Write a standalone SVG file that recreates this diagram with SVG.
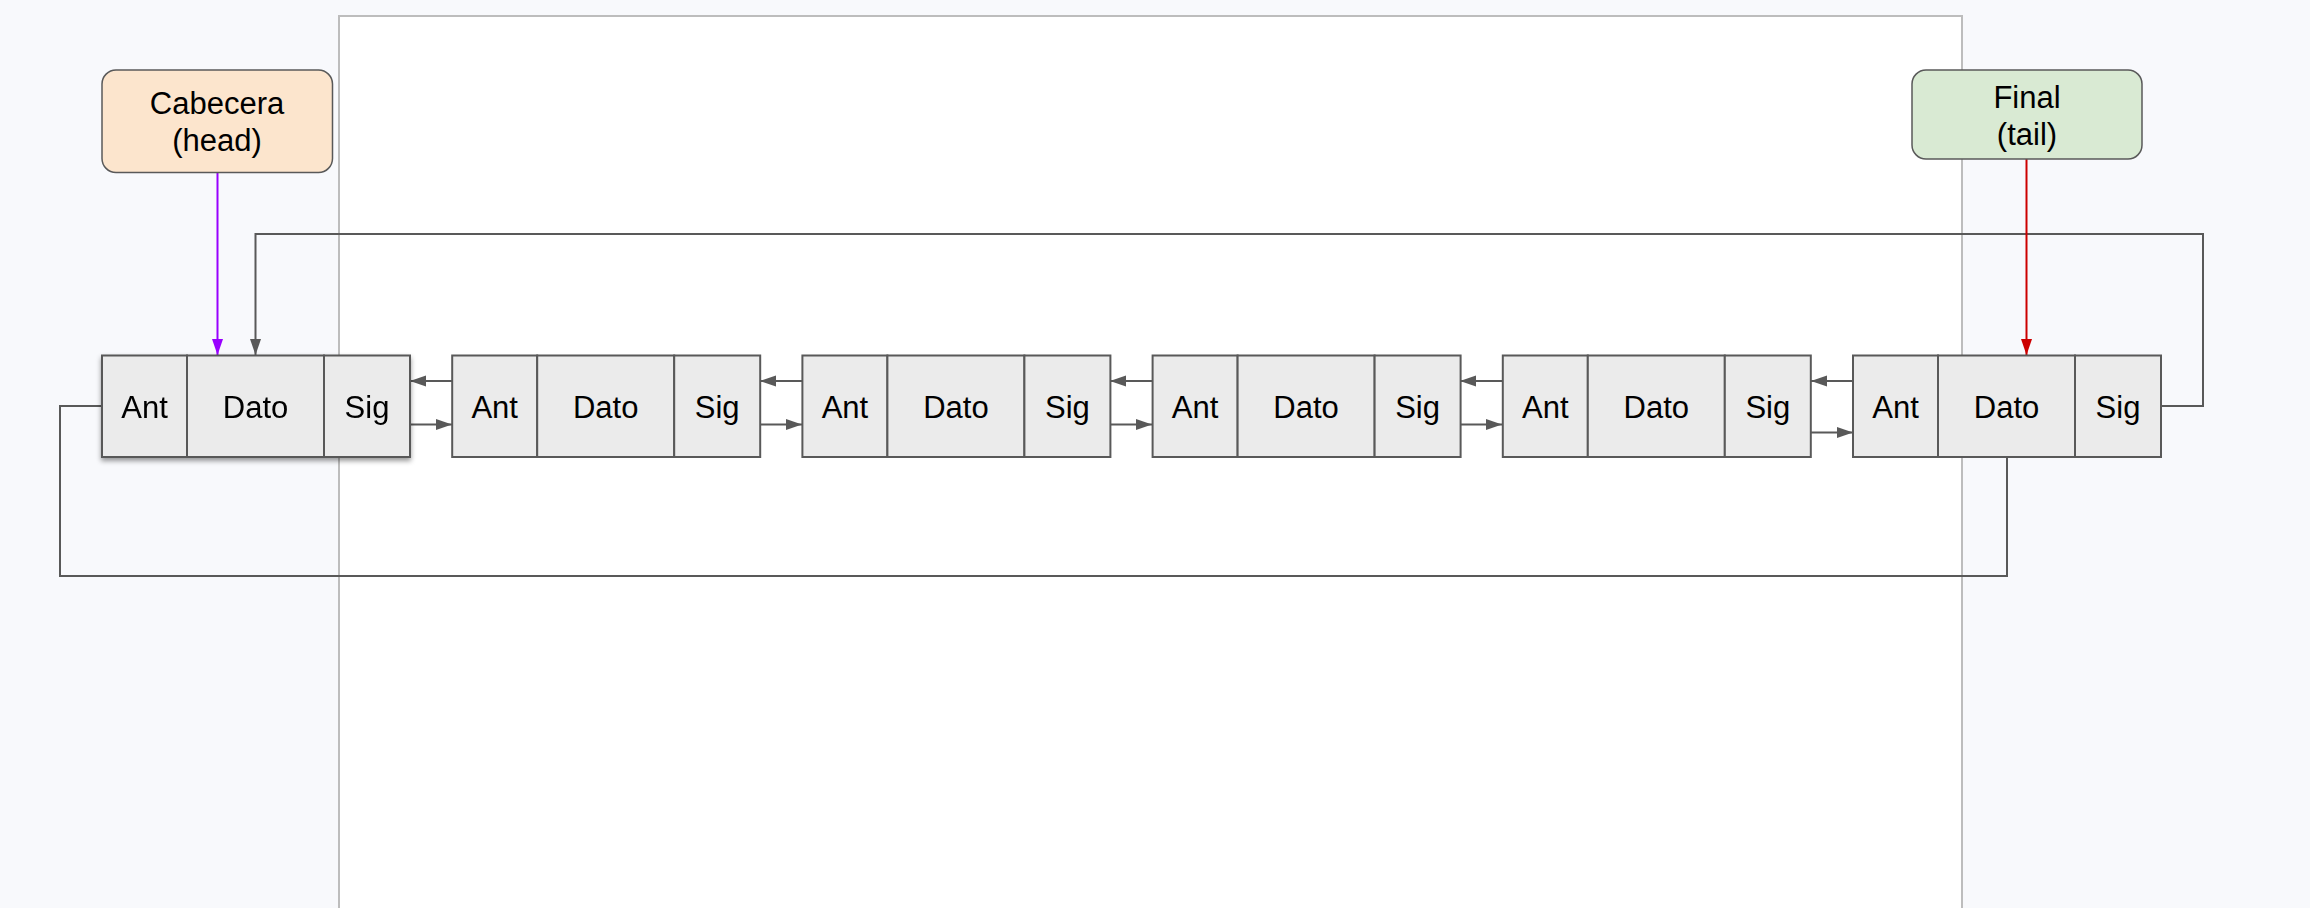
<svg xmlns="http://www.w3.org/2000/svg" width="2310" height="908" viewBox="0 0 2310 908">
<style>
.cell{fill:#ebebeb;stroke:#595959;stroke-width:2}
.t{font-family:"Liberation Sans",Arial,sans-serif;font-size:31px;fill:#000;text-anchor:middle}
.conn{fill:none;stroke:#595959;stroke-width:2}
.lbl{stroke:#595959;stroke-width:1.5}
</style>
<defs>
<marker id="ag" markerUnits="userSpaceOnUse" markerWidth="16" markerHeight="12" refX="16" refY="5.5" orient="auto"><path d="M0,0 L16,5.5 L0,11 z" fill="#595959"/></marker>
<marker id="ap" markerUnits="userSpaceOnUse" markerWidth="16" markerHeight="12" refX="16" refY="5.5" orient="auto"><path d="M0,0 L16,5.5 L0,11 z" fill="#9900ff"/></marker>
<marker id="ar" markerUnits="userSpaceOnUse" markerWidth="16" markerHeight="12" refX="16" refY="5.5" orient="auto"><path d="M0,0 L16,5.5 L0,11 z" fill="#cc0000"/></marker>
<filter id="sh" x="-10%" y="-20%" width="120%" height="150%"><feDropShadow dx="0" dy="3" stdDeviation="2.5" flood-color="#000" flood-opacity="0.4"/></filter>
<g id="cells">
<rect class="cell" x="0" y="0" width="85" height="101.5"/>
<rect class="cell" x="85" y="0" width="137" height="101.5"/>
<rect class="cell" x="222" y="0" width="86" height="101.5"/>
<text class="t" x="42.5" y="62.5">Ant</text>
<text class="t" x="153.5" y="62.5">Dato</text>
<text class="t" x="265" y="62.5">Sig</text>
</g>
</defs>
<rect x="0" y="0" width="2310" height="908" fill="#f8f9fc"/>
<rect x="339" y="16" width="1623" height="900" fill="#ffffff" stroke="#bdbdbd" stroke-width="2"/>

<g id="connectors">
<path class="conn" d="M2161,406 H2203 V234 H255.5 V355" marker-end="url(#ag)"/>
<path class="conn" d="M102,406 H60 V576 H2007 V457"/>
<path d="M217.5,173 V355" fill="none" stroke="#9900ff" stroke-width="2" marker-end="url(#ap)"/>
<path d="M2026.5,159 V355" fill="none" stroke="#cc0000" stroke-width="2" marker-end="url(#ar)"/>
<path class="conn" d="M452,381 H410" marker-end="url(#ag)"/>
<path class="conn" d="M410,424.5 H452" marker-end="url(#ag)"/>
<path class="conn" d="M802,381 H760" marker-end="url(#ag)"/>
<path class="conn" d="M760,424.5 H802" marker-end="url(#ag)"/>
<path class="conn" d="M1152,381 H1110" marker-end="url(#ag)"/>
<path class="conn" d="M1110,424.5 H1152" marker-end="url(#ag)"/>
<path class="conn" d="M1502,381 H1460" marker-end="url(#ag)"/>
<path class="conn" d="M1460,424.5 H1502" marker-end="url(#ag)"/>
<path class="conn" d="M1853,381 H1811" marker-end="url(#ag)"/>
<path class="conn" d="M1811,432.5 H1853" marker-end="url(#ag)"/>
</g>

<g id="head">
<rect x="102" y="70" width="230.5" height="102.5" rx="14" fill="#fce5cd" stroke="#595959" stroke-width="1.5"/>
<text class="t" x="217" y="114">Cabecera</text>
<text class="t" x="217" y="150.5">(head)</text>
</g>
<g id="tail">
<rect x="1912" y="70" width="230" height="89" rx="14" fill="#d9ead3" stroke="#595959" stroke-width="1.5"/>
<text class="t" x="2027" y="108">Final</text>
<text class="t" x="2027" y="145">(tail)</text>
</g>

<g id="node1" filter="url(#sh)"><use href="#cells" x="102" y="355.5"/></g>
<g id="node2"><use href="#cells" x="452.2" y="355.5"/></g>
<g id="node3"><use href="#cells" x="802.4" y="355.5"/></g>
<g id="node4"><use href="#cells" x="1152.6" y="355.5"/></g>
<g id="node5"><use href="#cells" x="1502.8" y="355.5"/></g>
<g id="node6"><use href="#cells" x="1853" y="355.5"/></g>
</svg>
